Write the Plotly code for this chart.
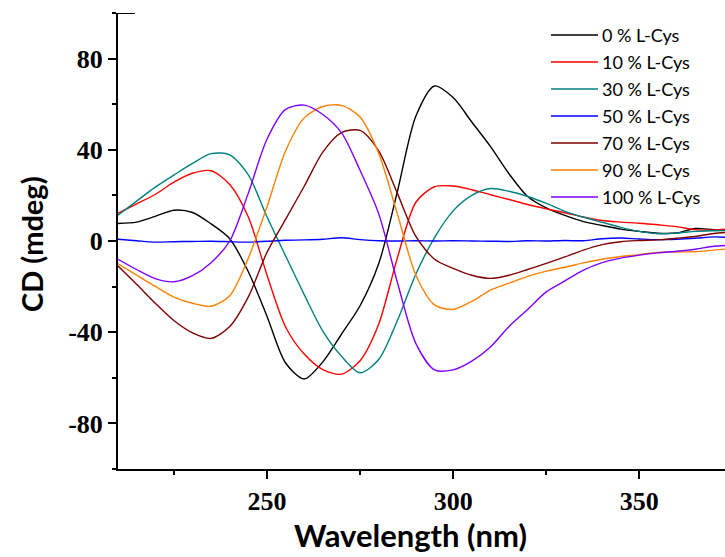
import plotly.graph_objects as go

# CD spectra of samples with increasing L-Cys fraction
wavelength = [210, 215, 220, 225, 230, 235, 240, 245, 250, 255, 260, 265, 270,
              275, 280, 285, 290, 295, 300, 305, 310, 315, 320, 325, 330, 335,
              340, 345, 350, 355, 360, 365, 370, 375]

cd_0 = [7.7, 8.3, 10.8, 13.5, 12.5, 7.5, 1.0, -13.5, -33.0, -53.5, -60.5, -53.0,
        -40.9, -28.4, -10.0, 21.5, 54.8, 68.0, 62.9, 52.2, 41.5, 29.5, 19.5,
        14.5, 11.2, 8.5, 6.8, 5.2, 4.2, 3.4, 3.5, 5.5, 5.0, 4.7]
cd_10 = [12.1, 16.3, 20.4, 25.8, 29.7, 30.8, 24.8, 10.5, -14.9, -37.7, -49.6,
         -56.4, -58.4, -52.5, -36.5, -7.5, 17.0, 23.8, 24.1, 22.5, 20.3, 18.2,
         16.0, 14.1, 12.4, 10.5, 9.0, 8.3, 7.8, 7.1, 6.3, 5.0, 4.8, 5.5]
cd_30 = [11.3, 17.5, 23.6, 28.9, 34.0, 38.3, 37.8, 29.0, 10.6, -6.5, -23.5,
         -39.5, -50.5, -57.8, -52.0, -35.0, -14.5, 1.5, 13.2, 20.0, 23.0, 21.8,
         19.5, 16.5, 13.0, 10.4, 8.2, 6.0, 4.2, 3.2, 3.5, 4.2, 4.5, 4.7]
cd_50 = [0.8, 0.1, -0.5, -0.3, -0.2, -0.1, -0.3, -0.5, -0.1, 0.3, 0.5, 0.8, 1.4,
         0.6, 0.1, 0.0, 0.1, 0.0, 0.1, 0.0, -0.1, -0.2, 0.1, 0.0, 0.2, 0.1, 1.0,
         1.3, 0.9, 0.6, 0.8, 1.2, 1.8, 1.5]
cd_70 = [-11.0, -19.0, -27.3, -34.9, -40.3, -42.7, -37.5, -24.5, -5.0, 9.5,
         24.0, 39.0, 47.5, 48.5, 39.5, 21.0, 2.0, -8.0, -12.0, -15.0, -16.4,
         -15.0, -12.5, -9.8, -7.0, -4.0, -1.6, -0.3, 0.2, 0.5, 1.2, 2.0, 3.3, 4.0]
cd_90 = [-10.0, -15.0, -19.9, -24.6, -27.3, -28.6, -24.0, -7.5, 15.0, 39.5,
         54.0, 59.0, 59.5, 54.4, 38.5, 12.0, -15.0, -28.0, -30.0, -26.5, -21.5,
         -18.5, -15.5, -13.2, -11.5, -9.6, -8.0, -6.8, -6.0, -5.0, -4.8, -4.7,
         -4.0, -3.3]
cd_100 = [-8.0, -12.5, -16.5, -17.9, -15.2, -9.5, 0.0, 21.0, 44.6, 57.7, 59.6,
          55.5, 47.5, 31.0, 12.0, -18.0, -45.0, -56.5, -56.5, -52.7, -46.5,
          -37.5, -30.0, -22.3, -17.5, -12.8, -9.5, -7.5, -6.2, -5.2, -4.5, -3.6,
          -2.3, -1.8]

labels = ["0 % L-Cys", "10 % L-Cys", "30 % L-Cys", "50 % L-Cys",
          "70 % L-Cys", "90 % L-Cys", "100 % L-Cys"]
series = [cd_0, cd_10, cd_30, cd_50, cd_70, cd_90, cd_100]
colors = ["#000000", "#FF0000", "#008080", "#0000FF", "#800000", "#FF8000",
          "#8000FF"]

y_ticks = [-80, -40, 0, 40, 80]
y_ticktext = ["-80", "-40", "0", "40", "80"]
x_ticks = [250, 300, 350]

W, H = 725, 557
ML, MR, MT, MB = 118, 0, 13, 88

fig = go.Figure()
for name, ys, col in zip(labels, series, colors):
    fig.add_trace(go.Scatter(x=wavelength, y=ys, mode="lines", name=name,
                             line=dict(color=col, width=1.4, shape="spline",
                                       smoothing=0.8),
                             showlegend=False))


def px_to_paper_x(px):
    return (px - ML) / (W - ML - MR)


def px_to_paper_y(py):
    return (H - MB - py) / (H - MT - MB)


# legend block in the upper right
shapes = []
annotations = []
leg_top, leg_step = 35.0, 27.0
for i, (name, col) in enumerate(zip(labels, colors)):
    yy = px_to_paper_y(leg_top + i * leg_step)
    shapes.append(dict(type="line", xref="paper", yref="paper",
                       x0=px_to_paper_x(551), x1=px_to_paper_x(598),
                       y0=yy, y1=yy, line=dict(color=col, width=1.5)))
    annotations.append(dict(xref="paper", yref="paper", x=px_to_paper_x(600),
                            y=yy, text=name, showarrow=False, xanchor="left",
                            yanchor="middle",
                            font=dict(family="Lato", size=18, color="black")))

# axis titles
annotations.append(dict(xref="paper", yref="paper", x=px_to_paper_x(410.5),
                        y=px_to_paper_y(535), text="Wavelength (nm)",
                        showarrow=False, xanchor="center", yanchor="middle",
                        font=dict(family="Lato", size=31, color="black",
                                  weight="bold")))
annotations.append(dict(xref="paper", yref="paper", x=px_to_paper_x(32),
                        y=px_to_paper_y(244), text="CD (mdeg)", textangle=-90,
                        showarrow=False, xanchor="center", yanchor="middle",
                        font=dict(family="Lato", size=29, color="black",
                                  weight="bold")))

# short stub at the top of the y axis
shapes.append(dict(type="line", xref="paper", yref="y", x0=0,
                   x1=px_to_paper_x(135), y0=100, y1=100,
                   line=dict(color="black", width=2)))

tick_font = dict(family="Liberation Serif", size=26, color="black",
                 weight="bold")

fig.update_layout(
    width=W, height=H,
    margin=dict(l=ML, r=MR, t=MT, b=MB),
    paper_bgcolor="white", plot_bgcolor="white",
    shapes=shapes, annotations=annotations,
    xaxis=dict(range=[210, 373], showline=True, linecolor="black",
               linewidth=2, ticks="outside", ticklen=8, tickwidth=2,
               tickcolor="black", tickvals=x_ticks, tickfont=tick_font,
               showgrid=False, zeroline=False,
               minor=dict(ticks="outside", ticklen=4, tickwidth=2,
                          tickcolor="black", dtick=25, tick0=200,
                          showgrid=False)),
    yaxis=dict(range=[-100, 100], showline=True, linecolor="black",
               linewidth=2, ticks="outside", ticklen=8, tickwidth=2,
               tickcolor="black", tickvals=y_ticks, ticktext=y_ticktext,
               tickfont=tick_font, showgrid=False, zeroline=False,
               minor=dict(ticks="outside", ticklen=4, tickwidth=2,
                          tickcolor="black", dtick=20, tick0=0,
                          showgrid=False)),
)

fig.write_html("out.html")
